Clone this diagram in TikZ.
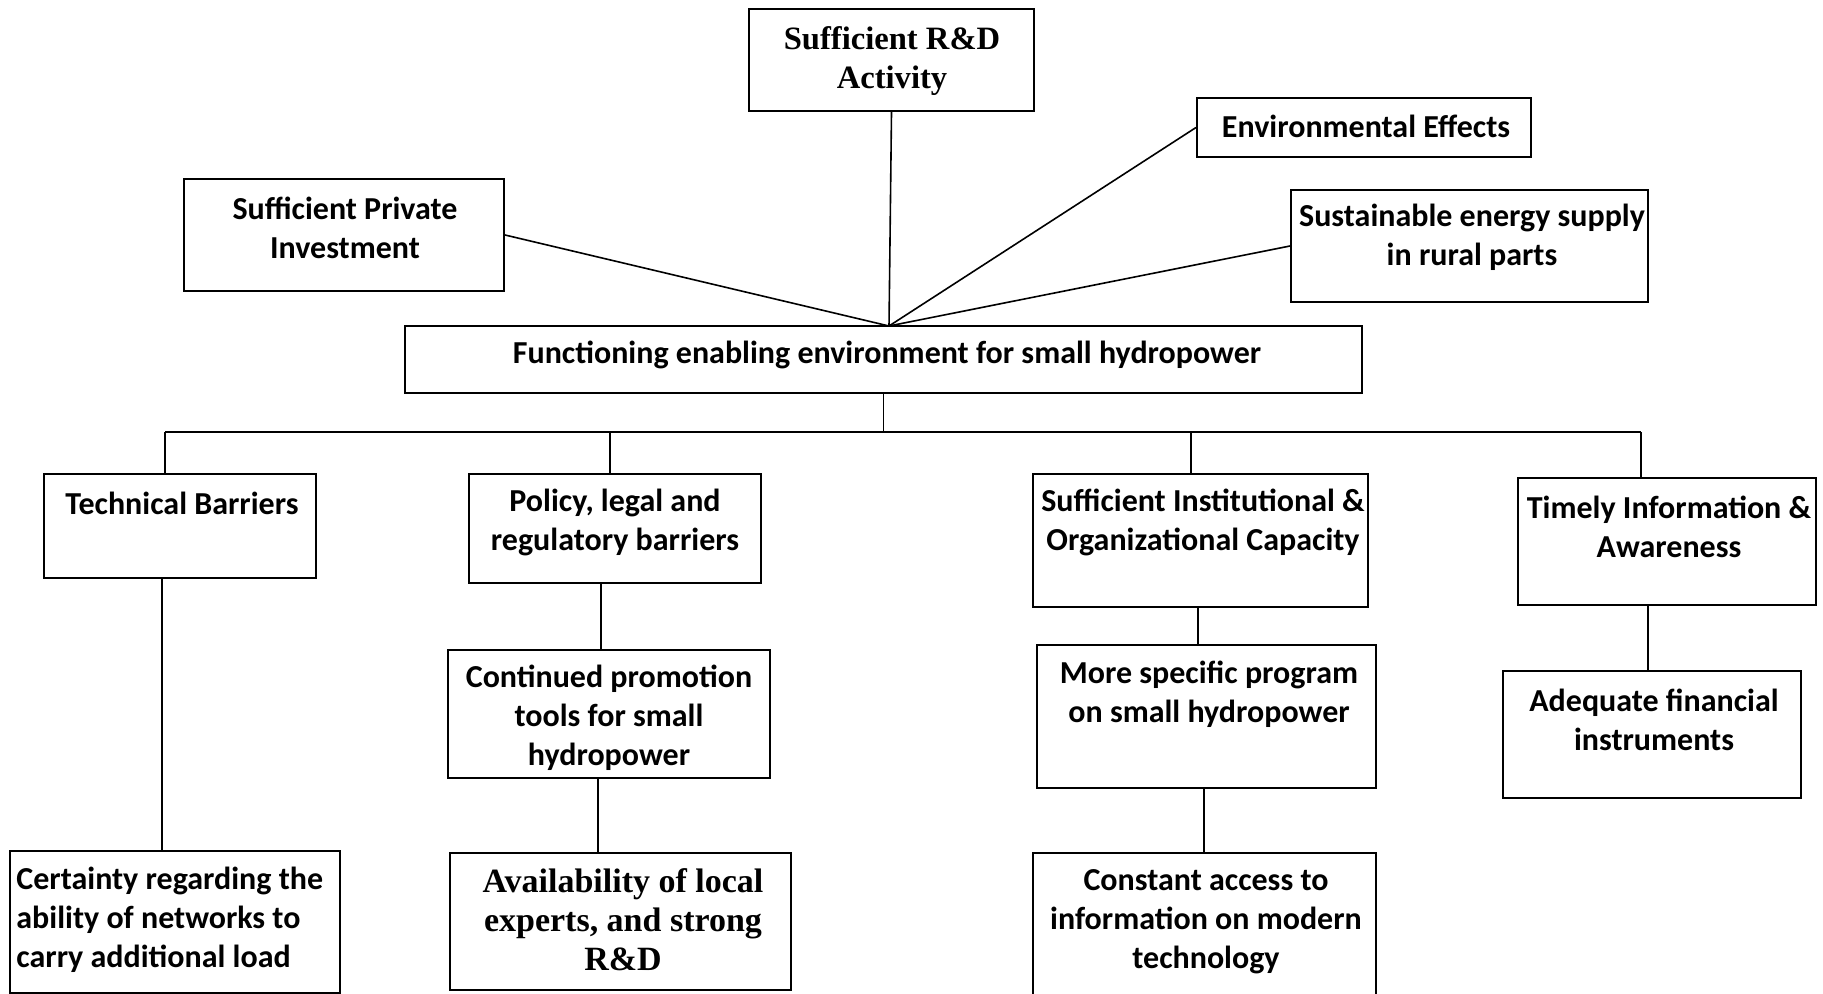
\documentclass[tikz,border=0pt]{standalone}
\usepackage{fontspec}
\setmainfont{Carlito}
\newfontfamily\serifbold{Liberation Serif}
\usetikzlibrary{fit}
\begin{document}
\begin{tikzpicture}[x=0.5pt,y=-0.5pt,
  box/.style={draw, line width=1pt, inner sep=0pt},
  lbl/.style={inner sep=0pt, align=center, yshift=-1.2pt, font=\fontsize{16}{19.5}\selectfont\bfseries},
  slbl/.style={inner sep=0pt, align=center, yshift=-0.6pt, font=\fontsize{17}{19.5}\selectfont\serifbold\bfseries},
  link/.style={line width=0.8pt}]
\clip (0,0) rectangle (1823,994);

% boxes
\node[box, fit={(749,9) (1034,111)}] (rd) {};
\node[box, fit={(1197,98) (1531,157)}] (env) {};
\node[box, fit={(1291,190) (1648,302)}] (sust) {};
\node[box, fit={(184,179) (504,291)}] (priv) {};
\node[box, fit={(405,326) (1362,393)}] (fn) {};
\node[box, fit={(44,474) (316,578)}] (tech) {};
\node[box, fit={(469,474) (761,583)}] (pol) {};
\node[box, fit={(1033,474) (1368,607)}] (inst) {};
\node[box, fit={(1518,478) (1816,605)}] (timely) {};
\node[box, fit={(448,650) (770,778)}] (cont) {};
\node[box, fit={(1037,645) (1376,788)}] (more) {};
\node[box, fit={(1503,671) (1801,798)}] (adeq) {};
\node[box, fit={(10,851) (340,993)}] (cert) {};
\node[box, fit={(450,853) (791,990)}] (avail) {};
\node[box, fit={(1033,853) (1376,1010)}] (const) {};

% texts
\node[slbl, font=\fontsize{16.3}{19.5}\selectfont\serifbold\bfseries] (rd-t) at (892,60) {Sufficient R\&D\\Activity};
\node[lbl] (env-t) at (1366,124) {Environmental Effects};
\node[lbl] (sust-t) at (1472,235) {Sustainable energy supply\\in rural parts};
\node[lbl] (priv-t) at (345,225) {Sufficient Private\\Investment};
\node[lbl] (fn-t) at (887,353) {Functioning enabling environment for small hydropower};
\node[lbl] (tech-t) at (182,501) {Technical Barriers};
\node[lbl] (pol-t) at (615,520) {Policy, legal and\\regulatory barriers};
\node[lbl] (inst-t) at (1203,520) {Sufficient Institutional \&\\Organizational Capacity};
\node[lbl] (timely-t) at (1669,524) {Timely Information \&\\Awareness};
\node[lbl] (cont-t) at (609,715) {Continued promotion\\tools for small\\hydropower};
\node[lbl] (more-t) at (1209,692) {More specific program\\on small hydropower};
\node[lbl] (adeq-t) at (1654,717) {Adequate financial\\instruments};
\node[lbl, align=left, anchor=west] (cert-t) at (16,917) {Certainty regarding the\\ability of networks to\\carry additional load};
\node[slbl] (avail-t) at (623,918) {Availability of local\\experts, and strong\\R\&D};
\node[lbl] (const-t) at (1206,919) {Constant access to\\information on modern\\technology};

% upper fan of links into the central box
\coordinate (hub) at (889,326);
\draw[link] (rd.south) -- (hub);
\draw[link] (priv.east) -- (hub);
\draw[link] (env.west) -- (hub);
\draw[link] (sust.west) -- (hub);

% bus below the central box
\coordinate (b1) at (165,432);
\coordinate (b2) at (610,432);
\coordinate (b3) at (1191,432);
\coordinate (b4) at (1641,432);
\draw[link] (fn.south) -- (fn.south |- b1);
\draw[link] (b1) -- (b4);
\draw[link] (b1) -- (b1 |- tech.north);
\draw[link] (b2) -- (b2 |- pol.north);
\draw[link] (b3) -- (b3 |- inst.north);
\draw[link] (b4) -- (b4 |- timely.north);

% vertical chains
\coordinate (c1) at (162,0);
\coordinate (c2) at (601,0);
\coordinate (c3) at (598,0);
\coordinate (c4) at (1198,0);
\coordinate (c5) at (1204,0);
\coordinate (c6) at (1648,0);
\draw[link] (tech.south -| c1) -- (cert.north -| c1);
\draw[link] (pol.south -| c2) -- (cont.north -| c2);
\draw[link] (cont.south -| c3) -- (avail.north -| c3);
\draw[link] (inst.south -| c4) -- (more.north -| c4);
\draw[link] (more.south -| c5) -- (const.north -| c5);
\draw[link] (timely.south -| c6) -- (adeq.north -| c6);
\end{tikzpicture}
\end{document}
